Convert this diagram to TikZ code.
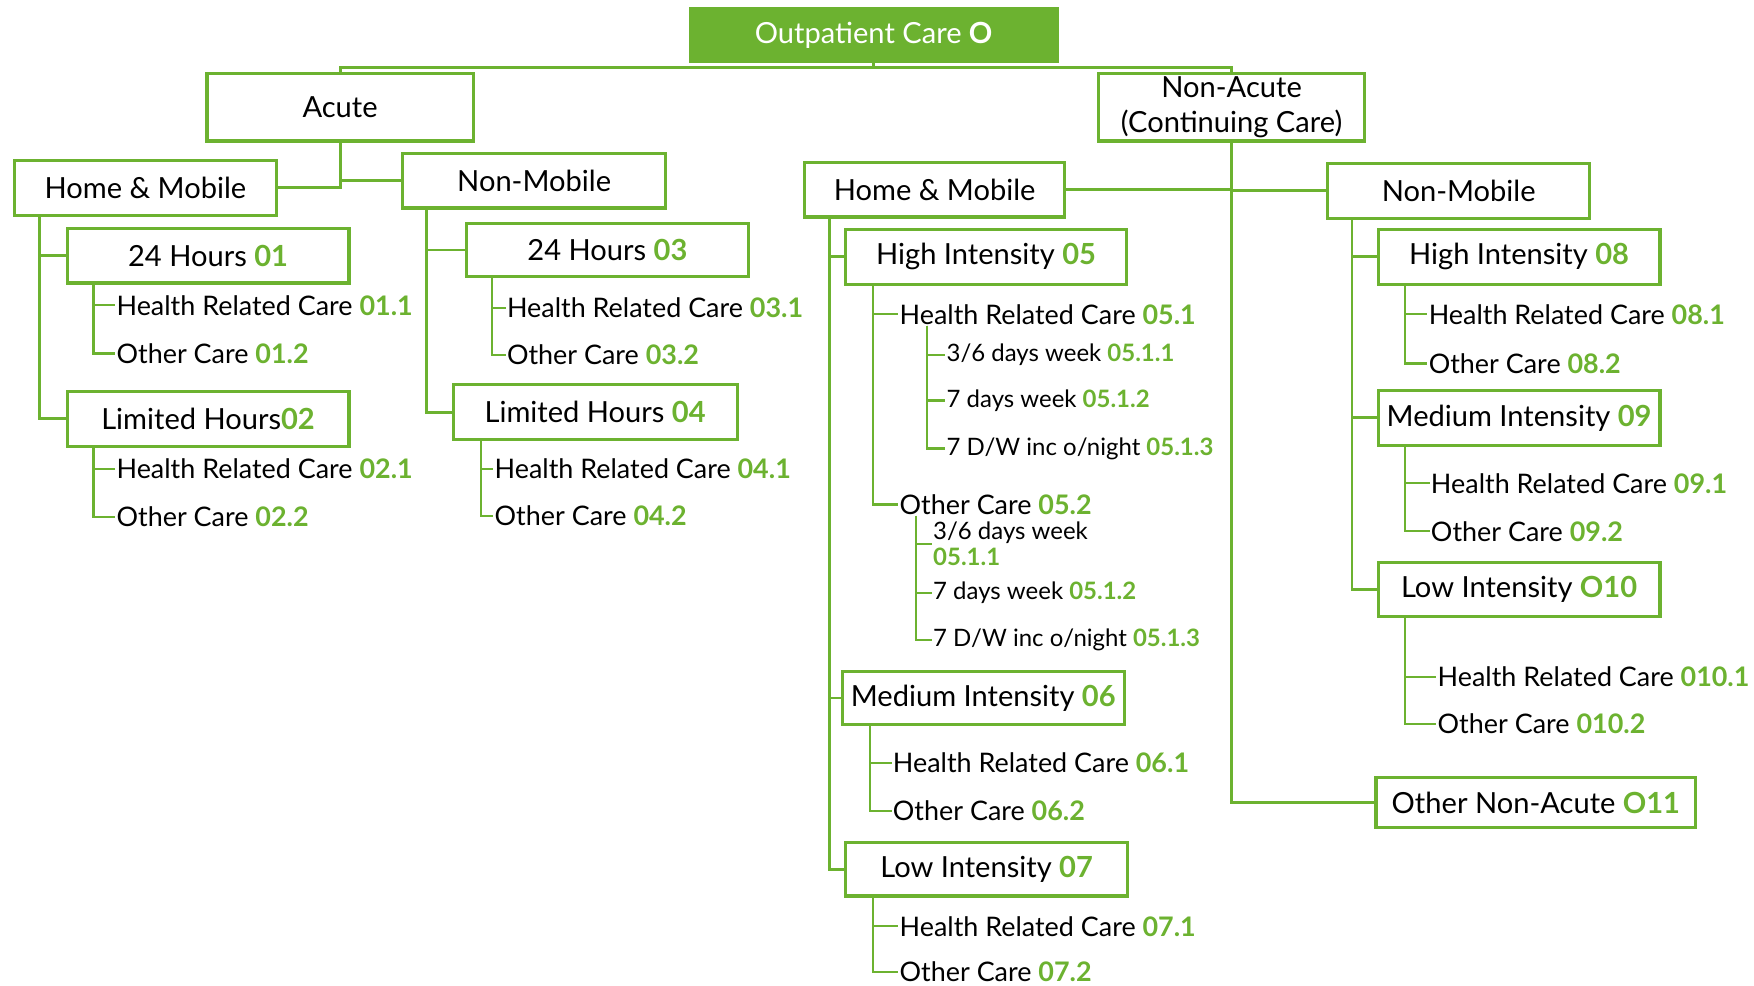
\documentclass[tikz,border=0pt]{standalone}
\usepackage{fontspec}
\setmainfont{Lato}
\definecolor{ngreen}{RGB}{108,178,48}
\tikzset{
  box/.style={draw=ngreen, line width=1.6pt, minimum height=0.98cm, inner sep=0pt, font=\fontsize{14.8}{17}\selectfont},
  leaf/.style={anchor=west, inner sep=0.5pt, font=\fontsize{13.7}{15}\selectfont},
  subleaf/.style={anchor=west, inner sep=0.5pt, font=\fontsize{12.2}{13.6}\selectfont},
  link/.style={draw=ngreen, line width=1.5pt},
  twig/.style={draw=ngreen, line width=1.1pt},
}
\newcommand{\code}[1]{\textbf{\textcolor{ngreen}{#1}}}

\begin{document}
\begin{tikzpicture}[x=0.02cm, y=-0.02cm]
    \useasboundingbox (0,0) rectangle (1568,881);

    % Top level
    \node[box, fill=ngreen, text=white, minimum width=6.56cm, minimum height=0.94cm] (title) at (781,31.5) {Outpatient Care \textbf{O}};
    \node[box, minimum width=4.76cm, minimum height=1.2cm] (acute) at (304,96) {Acute};
    \node[box, align=center, minimum width=4.76cm, minimum height=1.2cm, font=\fontsize{14.8}{17.6}\selectfont] (nonacute) at (1101,96) {Non-Acute\\(Continuing Care)};
    \draw[link] (title.south) -- ++(0,4) -| (acute.north);
    \draw[link] (title.south) ++(0,4) -| (nonacute.north);

    % Acute: home & mobile
    \node[box, minimum width=4.68cm] (hmA) at (130,168) {Home \& Mobile};
    \node[box, minimum width=5.04cm] (h01) at (186,228.5) {24 Hours \code{01}};
    \node[box, minimum width=5.04cm] (h02) at (186,374.5) {Limited Hours\code{02}};
    \node[leaf] (l011) at (103,273) {Health Related Care \code{01.1}};
    \node[leaf] (l012) at (103,316) {Other Care \code{01.2}};
    \node[leaf] (l021) at (103,419) {Health Related Care \code{02.1}};
    \node[leaf] (l022) at (103,462) {Other Care \code{02.2}};
    \draw[link] (acute.south) |- (hmA.east);
    \draw[link] (hmA.south west) ++(24,0) |- (h01.west);
    \draw[link] (hmA.south west) ++(24,0) |- (h02.west);
    \draw[twig] (h01.south west) ++(25,0) |- (l011.west);
    \draw[twig] (h01.south west) ++(25,0) |- (l012.west);
    \draw[twig] (h02.south west) ++(25,0) |- (l021.west);
    \draw[twig] (h02.south west) ++(25,0) |- (l022.west);

    % Acute: non-mobile
    \node[box, minimum width=4.7cm] (nmA) at (477.5,161.5) {Non-Mobile};
    \node[box, minimum width=5.04cm, minimum height=0.94cm] (h03) at (543,223.5) {24 Hours \code{03}};
    \node[box, minimum width=5.08cm] (h04) at (532,368.5) {Limited Hours \code{04}};
    \node[leaf] (l031) at (452,275) {Health Related Care \code{03.1}};
    \node[leaf] (l032) at (452,317) {Other Care \code{03.2}};
    \node[leaf] (l041) at (441,419) {Health Related Care \code{04.1}};
    \node[leaf] (l042) at (441,461) {Other Care \code{04.2}};
    \draw[link] (acute.south) |- (nmA.west);
    \draw[link] (nmA.south west) ++(23,0) |- (h03.west);
    \draw[link] (nmA.south west) ++(23,0) |- (h04.west);
    \draw[twig] (h03.south west) ++(24,0) |- (l031.west);
    \draw[twig] (h03.south west) ++(24,0) |- (l032.west);
    \draw[twig] (h04.south west) ++(26,0) |- (l041.west);
    \draw[twig] (h04.south west) ++(26,0) |- (l042.west);

    % Non-acute: home & mobile
    \node[box, minimum width=4.66cm] (hmB) at (835.5,169.5) {Home \& Mobile};
    \node[box, minimum width=5.02cm] (h05) at (881.5,229.5) {High Intensity \code{05}};
    \node[box, minimum width=5.04cm, minimum height=0.96cm] (h06) at (879,624) {Medium Intensity \code{06}};
    \node[box, minimum width=5.04cm, minimum height=0.96cm] (h07) at (882,777) {Low Intensity \code{07}};
    \node[leaf] (l051) at (803,281) {Health Related Care \code{05.1}};
    \node[subleaf] (s0511) at (845,317) {3/6 days week \code{05.1.1}};
    \node[subleaf] (s0512) at (845,358) {7 days week \code{05.1.2}};
    \node[subleaf] (s0513) at (845,401) {7 D/W inc o/night \code{05.1.3}};
    \node[leaf] (l052) at (803,451) {Other Care \code{05.2}};
    \node[subleaf, align=left] (s0521) at (833,486) {3/6 days week\\\code{05.1.1}};
    \node[subleaf] (s0522) at (833,530) {7 days week \code{05.1.2}};
    \node[subleaf] (s0523) at (833,572) {7 D/W inc o/night \code{05.1.3}};
    \node[leaf] (l061) at (797,682) {Health Related Care \code{06.1}};
    \node[leaf] (l062) at (797,725) {Other Care \code{06.2}};
    \node[leaf] (l071) at (803,828) {Health Related Care \code{07.1}};
    \node[leaf] (l072) at (803,869) {Other Care \code{07.2}};
    \draw[link] (nonacute.south) |- (hmB.east);
    \draw[link] (hmB.south west) ++(24,0) |- (h05.west);
    \draw[link] (hmB.south west) ++(24,0) |- (h06.west);
    \draw[link] (hmB.south west) ++(24,0) |- (h07.west);
    \draw[twig] (h05.south west) ++(26,0) |- (l051.west);
    \draw[twig] (h05.south west) ++(26,0) |- (l052.west);
    \draw[twig] (l051.south west) ++(26,0) |- (s0511.west);
    \draw[twig] (l051.south west) ++(26,0) |- (s0512.west);
    \draw[twig] (l051.south west) ++(26,0) |- (s0513.west);
    \draw[twig] (l052.south west) ++(16,0) |- (s0521.west);
    \draw[twig] (l052.south west) ++(16,0) |- (s0522.west);
    \draw[twig] (l052.south west) ++(16,0) |- (s0523.west);
    \draw[twig] (h06.south west) ++(26,0) |- (l061.west);
    \draw[twig] (h06.south west) ++(26,0) |- (l062.west);
    \draw[twig] (h07.south west) ++(26,0) |- (l071.west);
    \draw[twig] (h07.south west) ++(26,0) |- (l072.west);

    % Non-acute: non-mobile
    \node[box, minimum width=4.68cm] (nmB) at (1304,170.5) {Non-Mobile};
    \node[box, minimum width=5.04cm] (h08) at (1358,229.5) {High Intensity \code{08}};
    \node[box, minimum width=5.04cm] (h09) at (1358,373.5) {Medium Intensity \code{09}};
    \node[box, minimum width=5.04cm, minimum height=0.96cm] (h10) at (1358,527) {Low Intensity \code{O10}};
    \node[leaf] (l081) at (1276,281) {Health Related Care \code{08.1}};
    \node[leaf] (l082) at (1276,325) {Other Care \code{08.2}};
    \node[leaf] (l091) at (1278,432) {Health Related Care \code{09.1}};
    \node[leaf] (l092) at (1278,475) {Other Care \code{09.2}};
    \node[leaf] (l101) at (1284,605) {Health Related Care \code{010.1}};
    \node[leaf] (l102) at (1284,647) {Other Care \code{010.2}};
    \draw[link] (nonacute.south) |- (nmB.west);
    \draw[link] (nmB.south west) ++(23,0) |- (h08.west);
    \draw[link] (nmB.south west) ++(23,0) |- (h09.west);
    \draw[link] (nmB.south west) ++(23,0) |- (h10.west);
    \draw[twig] (h08.south west) ++(25,0) |- (l081.west);
    \draw[twig] (h08.south west) ++(25,0) |- (l082.west);
    \draw[twig] (h09.south west) ++(25,0) |- (l091.west);
    \draw[twig] (h09.south west) ++(25,0) |- (l092.west);
    \draw[twig] (h10.south west) ++(25,0) |- (l101.west);
    \draw[twig] (h10.south west) ++(25,0) |- (l102.west);

    % Other non-acute
    \node[box, minimum width=5.72cm, minimum height=0.9cm] (o11) at (1373,717.5) {Other Non-Acute \code{O11}};
    \draw[link] (nonacute.south) |- (o11.west);
\end{tikzpicture}
\end{document}
